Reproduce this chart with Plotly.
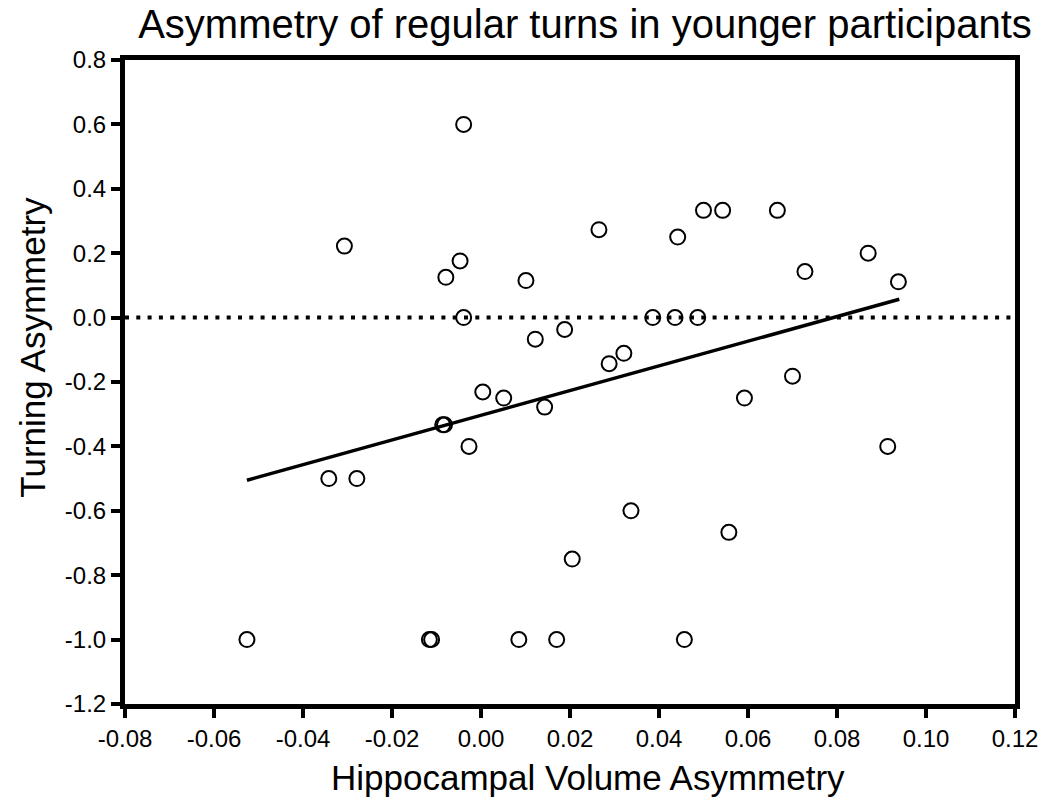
import plotly.graph_objects as go

# ---- data ----
hippo_asym = [-0.0526, -0.0342, -0.0279, -0.0307, -0.0116, -0.0111, -0.0086, -0.0082,
              -0.0079, -0.0047, -0.0039, -0.0039, -0.0027, 0.0004, 0.0051, 0.0085,
              0.0101, 0.0122, 0.0143, 0.0170, 0.0188, 0.0205, 0.0265, 0.0288,
              0.0321, 0.0337, 0.0386, 0.0436, 0.0442, 0.0457, 0.0487, 0.0500,
              0.0543, 0.0557, 0.0592, 0.0666, 0.0700, 0.0728, 0.0870, 0.0914, 0.0938]
turn_asym = [-1.0, -0.5, -0.5, 0.222, -1.0, -1.0, -0.333, -0.333,
             0.125, 0.176, 0.6, 0.0, -0.4, -0.231, -0.25, -1.0,
             0.115, -0.067, -0.278, -1.0, -0.037, -0.75, 0.273, -0.143,
             -0.111, -0.6, 0.0, 0.0, 0.25, -1.0, 0.0, 0.333,
             0.333, -0.667, -0.25, 0.333, -0.182, 0.143, 0.2, -0.4, 0.111]

fit_x = [-0.0526, 0.0940]
fit_y = [-0.505, 0.057]

ref_x = [-0.08, 0.12]
ref_y = [0.0, 0.0]

x_ticks = [-0.08, -0.06, -0.04, -0.02, 0.00, 0.02, 0.04, 0.06, 0.08, 0.10, 0.12]
x_tick_labels = ["-0.08", "-0.06", "-0.04", "-0.02", "0.00", "0.02", "0.04",
                 "0.06", "0.08", "0.10", "0.12"]
y_ticks = [0.8, 0.6, 0.4, 0.2, 0.0, -0.2, -0.4, -0.6, -0.8, -1.0, -1.2]
y_tick_labels = ["0.8", "0.6", "0.4", "0.2", "0.0", "-0.2", "-0.4", "-0.6",
                 "-0.8", "-1.0", "-1.2"]

title_text = "Asymmetry of regular turns in younger participants"
x_title = "Hippocampal Volume Asymmetry"
y_title = "Turning Asymmetry"

FONT = "Liberation Sans, Arial, Helvetica, sans-serif"

fig = go.Figure()

fig.add_trace(go.Scatter(
    x=ref_x, y=ref_y, mode="lines",
    line=dict(color="black", width=4, dash="4px,7.3px"),
    hoverinfo="skip", showlegend=False))

fig.add_trace(go.Scatter(
    x=fit_x, y=fit_y, mode="lines",
    line=dict(color="black", width=3.5),
    showlegend=False))

fig.add_trace(go.Scatter(
    x=hippo_asym, y=turn_asym, mode="markers",
    marker=dict(symbol="circle-open", size=15, color="black",
                line=dict(width=2, color="black")),
    showlegend=False))

axis_common = dict(
    showgrid=False, zeroline=False,
    showline=True, linecolor="black", linewidth=5, mirror=True,
    ticks="outside", ticklen=9, tickwidth=4, tickcolor="black",
)

fig.update_xaxes(
    range=[-0.08, 0.12], tickvals=x_ticks, ticktext=x_tick_labels,
    tickfont=dict(family=FONT, size=24, color="black"), **axis_common)
fig.update_yaxes(
    range=[-1.2, 0.8], tickvals=y_ticks, ticktext=y_tick_labels,
    tickfont=dict(family=FONT, size=24, color="black"), **axis_common)

fig.update_layout(
    width=1050, height=803,
    margin=dict(l=125, r=29, t=60, b=99),
    paper_bgcolor="white", plot_bgcolor="white",
    title=dict(text=title_text, font=dict(family=FONT, size=40, color="black"),
               x=585 / 1050, xanchor="center", xref="container",
               y=1 - 24 / 803, yanchor="middle", yref="container"),
    annotations=[
        dict(text=x_title, xref="paper", yref="paper",
             x=(591 - 125) / 896, y=(704 - 777) / 644,
             xanchor="center", yanchor="middle", showarrow=False,
             font=dict(family=FONT, size=35, color="black")),
        dict(text=y_title, xref="paper", yref="paper",
             x=(31 - 125) / 896, y=(704 - 347) / 644, textangle=-90,
             xanchor="center", yanchor="middle", showarrow=False,
             font=dict(family=FONT, size=35, color="black")),
    ],
)

fig.write_html("out.html",
               config={"displayModeBar": False},
               post_script="document.body.style.margin='0';document.body.style.overflow='hidden';")
